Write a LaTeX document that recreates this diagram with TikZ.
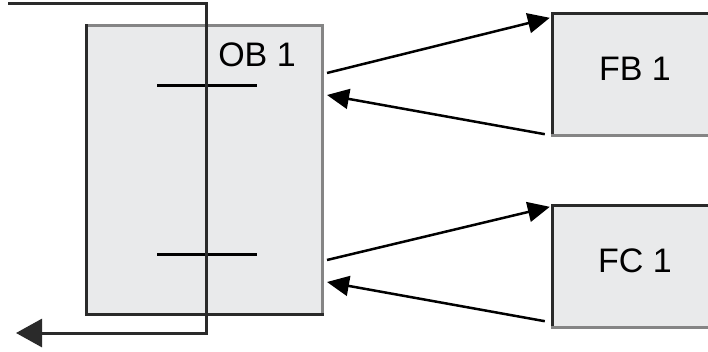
\documentclass[tikz,border=0pt]{standalone}
\usepackage{fontspec}
\setmainfont{Liberation Sans}
\usetikzlibrary{arrows.meta}

\definecolor{fondo}{HTML}{E9EAEB}
\definecolor{scuro}{HTML}{2A2A2A}
\definecolor{chiaro}{HTML}{858585}

\begin{document}
\begin{tikzpicture}[
			x=1pt, y=-1pt,
			>={Triangle[length=22pt,width=20pt]},
			blocco/.style={fill=fondo, draw=none, inner sep=0pt,
				font=\fontsize{34}{40}\selectfont},
			testo/.style={inner sep=0pt, font=\fontsize{34}{40}\selectfont},
			bordoscuro/.style={line width=3pt, scuro, line cap=rect},
			bordochiaro/.style={line width=3pt, chiaro, line cap=rect},
			traccia/.style={line width=3pt, scuro},
			chiamata/.style={->, line width=2.5pt, black}]
			
			\useasboundingbox (0,0) rectangle (708,351);
			
			%% --- blocchi ---
			\node[blocco, minimum width=235pt, minimum height=288pt] (ob) at (204.5,170) {};
			\node[testo] (obt) at (257,55) {OB 1};
			\node[blocco, minimum width=164pt, minimum height=121pt, text depth=12pt] (fb) at (635,74.5) {FB 1};
			\node[blocco, minimum width=164pt, minimum height=121pt, text depth=12pt] (fc) at (635,266.5) {FC 1};
			
			%% --- bordi in rilievo ---
			\draw[bordochiaro] (ob.north west) -- (ob.north east) -- (ob.south east);
			\draw[bordoscuro] (ob.north west) -- (ob.south west) -- (ob.south east);
			\draw[bordoscuro] (fb.south west) -- (fb.north west) -- (fb.north east);
			\draw[bordochiaro] (fb.south west) -- (fb.south east);
			\draw[bordoscuro] (fc.south west) -- (fc.north west) -- (fc.north east);
			\draw[bordochiaro] (fc.south west) -- (fc.south east);
			
			%% --- segmenti del programma ---
			\draw[traccia, black] (157,85) -- (257,85);
			\draw[traccia, black] (157,254) -- (257,254);
			
			%% --- ciclo di OB 1 ---
			\coordinate (ingresso) at (8,3);
			\coordinate (ritorno) at (206,333);
			\coordinate (uscita) at (16,333);
			\draw[traccia, -{Triangle[length=26pt,width=28pt]}] (ingresso) -| (ritorno) -- (uscita);
			
			%% --- chiamate e ritorni ---
			\coordinate (chFB) at (327,73);
			\coordinate (riFB) at (327,95);
			\coordinate (chFC) at (327,260);
			\coordinate (riFC) at (327,282);
			\draw[chiamata] (chFB) -- ([xshift=-3pt,yshift=-4pt]fb.north west);
			\draw[chiamata] ([xshift=-8pt,yshift=1pt]fb.south west) -- (riFB);
			\draw[chiamata] (chFC) -- ([xshift=-3pt,yshift=-1pt]fc.north west);
			\draw[chiamata] ([xshift=-8pt,yshift=6pt]fc.south west) -- (riFC);
			
		\end{tikzpicture}
\end{document}
